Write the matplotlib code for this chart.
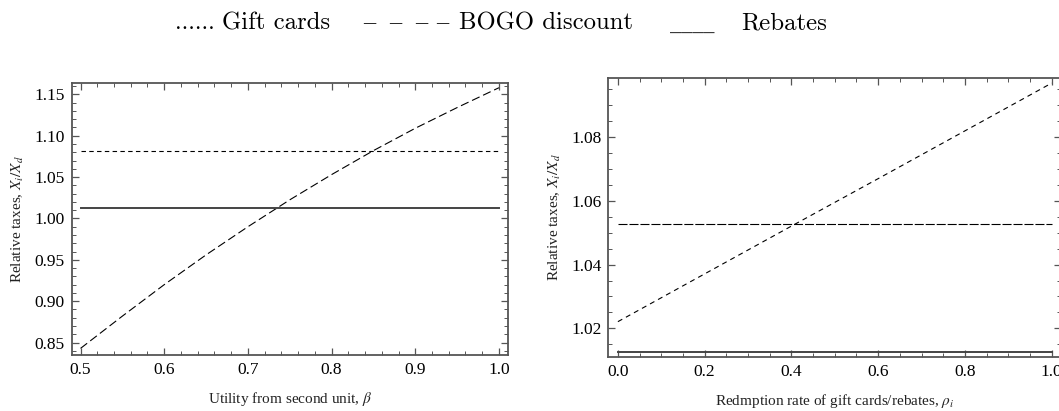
import numpy as np
import matplotlib
matplotlib.use("Agg")
import matplotlib.pyplot as plt
from matplotlib.ticker import MultipleLocator

plt.rcParams['font.family'] = ['Liberation Serif', 'DejaVu Serif']
plt.rcParams['mathtext.fontset'] = 'stix'
plt.rcParams['lines.scale_dashes'] = False

# left panel: taxes vs utility from second unit
beta = [0.5, 0.55, 0.6, 0.65, 0.7, 0.75, 0.8, 0.85, 0.9, 0.95, 1.0]
bogo_beta = [0.843, 0.882, 0.920, 0.956, 0.990, 1.0225, 1.053, 1.082, 1.109, 1.134, 1.158]
gift_beta = 1.082
rebate_beta = 1.013

# right panel: taxes vs redemption rate
rho = [0.0, 0.2, 0.4, 0.6, 0.8, 1.0]
gift_rho = [1.0221, 1.0371, 1.0521, 1.0670, 1.0820, 1.0970]
bogo_rho = 1.0527
rebate_rho = 1.0125

spine_col = '#555555'

fig = plt.figure(figsize=(10.59, 4.11), dpi=100)
ax1 = fig.add_axes([71.5 / 1059, 1 - 355 / 411, (508 - 71.5) / 1059, (355 - 83) / 411])
ax2 = fig.add_axes([608.3 / 1059, 1 - 356.7 / 411, (1061.3 - 608.3) / 1059, (356.7 - 78.3) / 411])


def style(ax):
    for s in ax.spines.values():
        s.set_color(spine_col)
        s.set_linewidth(1.3)
    ax.tick_params(which='both', direction='in', top=True, right=True,
                   color=spine_col, labelsize=12.5, pad=5)
    ax.tick_params(which='major', length=5, width=0.9)
    ax.tick_params(which='minor', length=3, width=0.7)


# left
ax1.plot(beta, bogo_beta, color='black', lw=0.8, dashes=(6, 2.8))
ax1.plot([beta[0], beta[-1]], [gift_beta, gift_beta], color='black', lw=0.8, dashes=(3.2, 2.4))
ax1.plot([beta[0], beta[-1]], [rebate_beta, rebate_beta], color='#444444', lw=1.4)
ax1.set_xlim(0.4892, 1.0108)
ax1.set_ylim(0.835, 1.1637)
ax1.xaxis.set_major_locator(MultipleLocator(0.1))
ax1.xaxis.set_minor_locator(MultipleLocator(0.02))
ax1.yaxis.set_major_locator(MultipleLocator(0.05))
ax1.yaxis.set_minor_locator(MultipleLocator(0.01))
ax1.xaxis.set_major_formatter(lambda v, p: f"{v:.1f}")
ax1.yaxis.set_major_formatter(lambda v, p: f"{v:.2f}")
style(ax1)
ax1.set_xlabel(r"Utility from second unit, $\beta$", fontsize=11, labelpad=9, color='#222222')
ax1.set_ylabel(r"Relative taxes, $X_i/X_d$", fontsize=11, labelpad=6, color='#222222')

# right
ax2.plot(rho, gift_rho, color='black', lw=0.8, dashes=(3.6, 3.0))
ax2.plot([rho[0], rho[-1]], [bogo_rho, bogo_rho], color='black', lw=0.8, dashes=(6.5, 1.4))
ax2.plot([rho[0], rho[-1]], [rebate_rho, rebate_rho], color='#444444', lw=1.4)
ax2.set_xlim(-0.0221, 1.0221)
ax2.set_ylim(1.0111, 1.0985)
ax2.xaxis.set_major_locator(MultipleLocator(0.2))
ax2.xaxis.set_minor_locator(MultipleLocator(0.05))
ax2.yaxis.set_major_locator(MultipleLocator(0.02))
ax2.yaxis.set_minor_locator(MultipleLocator(0.005))
ax2.xaxis.set_major_formatter(lambda v, p: f"{v:.1f}")
ax2.yaxis.set_major_formatter(lambda v, p: f"{v:.2f}")
style(ax2)
ax2.set_xlabel(r"Redmption rate of gift cards/rebates, $\rho_i$", fontsize=11, labelpad=9, color='#222222')
ax2.set_ylabel(r"Relative taxes, $X_i/X_d$", fontsize=11, labelpad=6, color='#222222')

# legend written as text, like the original caption line
ly = 1 - 23 / 411
fs = 17.8
fig.text(175 / 1059, ly, "......", family='cmr10', fontsize=17, va='center')
fig.text(222 / 1059, ly, "Gift cards", family='cmr10', fontsize=fs, va='center')
fig.text(361 / 1059, ly, r"${-}\;\;{-}\;\;{-}\;{-}$", math_fontfamily='cm', fontsize=15, va='center')
fig.text(459 / 1059, ly, "BOGO discount", family='cmr10', fontsize=fs, va='center')
fig.text(670 / 1059, ly, "____", family='DejaVu Serif', fontsize=16, va='center', color='#333333')
fig.text(741 / 1059, ly, "Rebates", family='cmr10', fontsize=fs, va='center')

fig.savefig("out.png", dpi=100)
